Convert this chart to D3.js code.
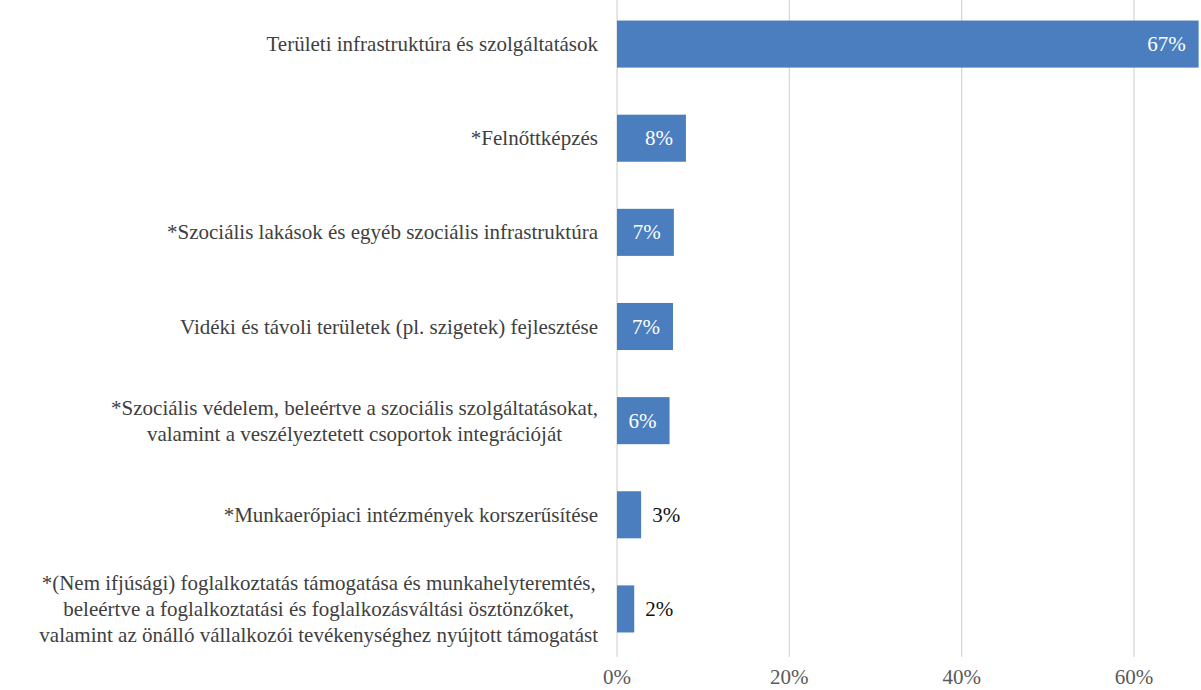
<!DOCTYPE html>
<html>
<head>
  <meta charset="utf-8">
  <title>Horizontal bar chart</title>
</head>
<body style="margin:0; background:#fff">
  <svg id="chart" width="1201" height="690"></svg>

  <script src="https://d3js.org/d3.v7.min.js"></script>
  <script>
    // Category labels (each entry is the list of lines)
    const categories = [
      ['Területi infrastruktúra és szolgáltatások'],
      ['*Felnőttképzés'],
      ['*Szociális lakások és egyéb szociális infrastruktúra'],
      ['Vidéki és távoli területek (pl. szigetek) fejlesztése'],
      ['*Szociális védelem, beleértve a szociális szolgáltatásokat,',
       'valamint a veszélyeztetett csoportok integrációját'],
      ['*Munkaerőpiaci intézmények korszerűsítése'],
      ['*(Nem ifjúsági) foglalkoztatás támogatása és munkahelyteremtés,',
       'beleértve a foglalkoztatási és foglalkozásváltási ösztönzőket,',
       'valamint az önálló vállalkozói tevékenységhez nyújtott támogatást']
    ];
    const values = [67.5, 8.0, 6.6, 6.5, 6.1, 2.8, 2.0];
    const valueLabels = ['67%', '8%', '7%', '7%', '6%', '3%', '2%'];
    const xTicks = [0, 20, 40, 60];

    // bare family name, no letter-spacing: otherwise the serif face gets dropped
    const FONT = 'Liberation Serif';
    const FS = 21;
    const svg = d3.select('#chart');

    const x = d3.scaleLinear().domain([0, 60]).range([617, 1134]);
    const y = d3.scaleBand()
      .domain(d3.range(categories.length))
      .range([-3, 656])
      .paddingInner(0.5)
      .paddingOuter(0.25);

    // grid lines
    svg.append('g')
      .selectAll('line')
      .data(xTicks)
      .join('line')
      .attr('x1', d => x(d)).attr('x2', d => x(d))
      .attr('y1', 0).attr('y2', 657)
      .attr('stroke', '#d9d9d9')
      .attr('stroke-width', 1.3);

    // x tick labels
    svg.append('g')
      .selectAll('text')
      .data(xTicks)
      .join('text')
      .attr('x', d => x(d))
      .attr('y', 684)
      .attr('text-anchor', 'middle')
      .attr('font-family', FONT)
      .attr('font-size', FS)
      .attr('fill', '#595959')
      .text(d => d + '%');

    // bars
    svg.append('g')
      .selectAll('rect')
      .data(values)
      .join('rect')
      .attr('x', x(0))
      .attr('y', (d, i) => y(i))
      .attr('width', d => x(d) - x(0))
      .attr('height', y.bandwidth())
      .attr('fill', '#4a7ebf');

    // value labels
    svg.append('g')
      .selectAll('text')
      .data(values)
      .join('text')
      .attr('x', d => d >= 5 ? x(d) - 13 : x(d) + 11)
      .attr('y', (d, i) => y(i) + y.bandwidth() / 2 + 7)
      .attr('text-anchor', d => d >= 5 ? 'end' : 'start')
      .attr('font-family', FONT)
      .attr('font-size', FS)
      .attr('fill', d => d >= 5 ? '#ffffff' : '#111111')
      .text((d, i) => valueLabels[i]);

    // category labels, lines centred on each other, block right-aligned
    const labelRight = 598;
    const lineH = 26;
    categories.forEach((lines, i) => {
      const cy = y(i) + y.bandwidth() / 2;
      const texts = svg.append('g')
        .selectAll('text')
        .data(lines)
        .join('text')
        .attr('y', (d, j) => cy + 7 + (j - (lines.length - 1) / 2) * lineH)
        .attr('font-family', FONT)
        .attr('font-size', FS)
        .attr('fill', '#404040')
        .attr('text-anchor', 'middle')
        .text(d => d);
      let maxW = 0;
      texts.each(function () { maxW = Math.max(maxW, this.getComputedTextLength()); });
      texts.attr('x', labelRight - maxW / 2);
    });
  </script>
</body>
</html>
